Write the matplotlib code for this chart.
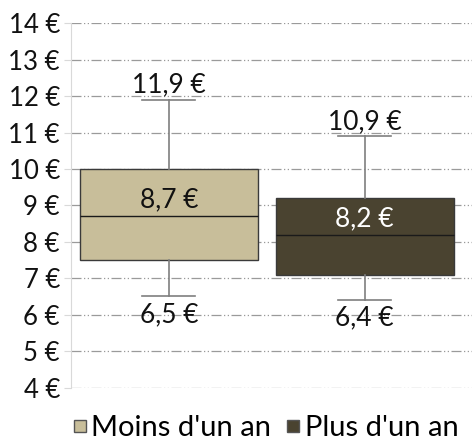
import matplotlib.pyplot as plt
from matplotlib.lines import Line2D

plt.rcParams['font.family'] = ['Lato', 'DejaVu Sans']

# données
groupes = ["Moins d'un an", "Plus d'un an"]
mins = [6.5, 6.4]
q1 = [7.5, 7.1]
medianes = [8.7, 8.2]
q3 = [10.0, 9.2]
maxs = [11.9, 10.9]
couleurs = ['#C8BE9A', '#4A4330']
couleurs_texte = ['#111111', 'white']

def euro(v):
    return f"{v:.1f}".replace('.', ',') + ' €'

fig = plt.figure(figsize=(4.74, 4.48), dpi=100)
ax = fig.add_axes([0.150, 0.135, 0.846, 0.813])

stats = []
for i, g in enumerate(groupes):
    stats.append(dict(label=g, whislo=mins[i], q1=q1[i], med=medianes[i], q3=q3[i], whishi=maxs[i], fliers=[]))

pos = [1, 2]
bp = ax.bxp(stats, positions=pos, widths=0.91, patch_artist=True, showfliers=False,
            boxprops=dict(edgecolor='#3a3a3a', linewidth=1.0),
            medianprops=dict(color='#1a1a1a', linewidth=1.0),
            whiskerprops=dict(color='#7f7f7f', linewidth=1.2),
            capprops=dict(color='#7f7f7f', linewidth=1.2),
            capwidths=0.27)
for b, c in zip(bp['boxes'], couleurs):
    b.set_facecolor(c)
    b.set_zorder(3)
for k in ['whiskers', 'caps', 'medians']:
    for l in bp[k]:
        l.set_zorder(3)

for i, p in enumerate(pos):
    ax.text(p, maxs[i] + 0.06, euro(maxs[i]), ha='center', va='bottom', fontsize=19, color='#111111', zorder=4)
    ax.text(p, mins[i] - 0.15, euro(mins[i]), ha='center', va='top', fontsize=19, color='#111111', zorder=4)
    ax.text(p, medianes[i] + 0.1, euro(medianes[i]), ha='center', va='bottom', fontsize=19,
            color=couleurs_texte[i], zorder=4)

ax.set_xlim(0.5, 2.55)
ax.set_ylim(4, 14)
ax.set_yticks(range(4, 15))
ax.set_yticklabels([f'{v} €' for v in range(4, 15)], fontsize=18.5, color='#111111')
ax.set_xticks([])
ax.grid(axis='y', color='#9a9a9a', linestyle=(0, (8, 2, 1, 2, 1, 2)), linewidth=0.9, zorder=0)
for s in ['top', 'right', 'bottom']:
    ax.spines[s].set_visible(False)
ax.spines['left'].set_color('#d9d9d9')
ax.tick_params(axis='y', length=5, color='#d9d9d9', pad=3)

handles = [Line2D([], [], marker='s', linestyle='none', markersize=8, markerfacecolor=c,
                  markeredgecolor='#555555', label=g) for g, c in zip(groupes, couleurs)]
fig.legend(handles=handles, loc='center', bbox_to_anchor=(0.56, 0.045), ncol=2, frameon=False,
           fontsize=21, handlelength=0.5, handletextpad=0.15, columnspacing=0.5)

fig.savefig('out.png', dpi=100)
